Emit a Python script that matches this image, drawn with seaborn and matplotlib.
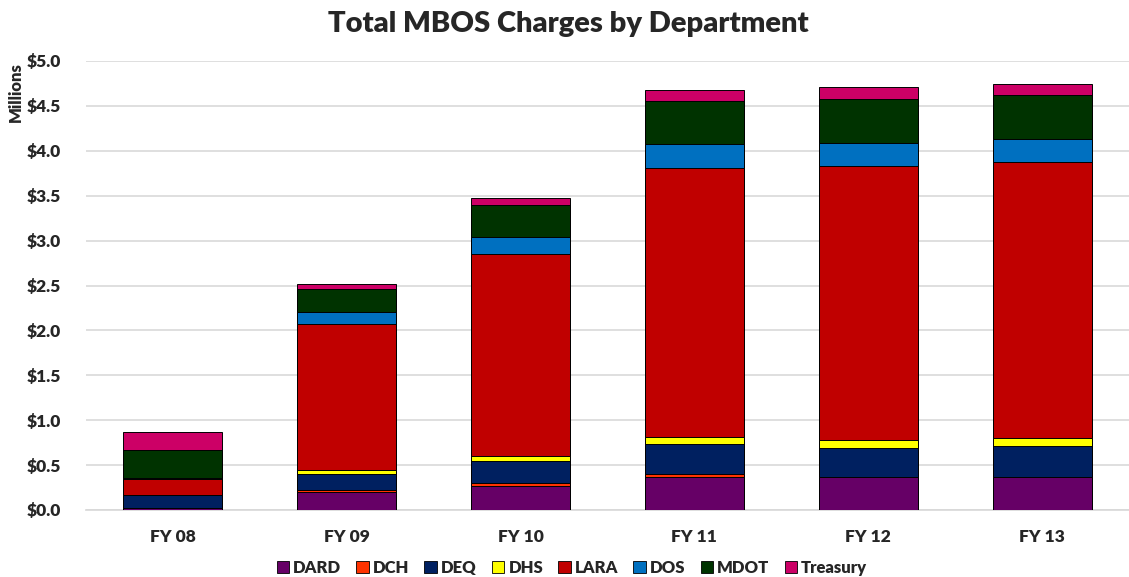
import matplotlib
matplotlib.use("Agg")
import matplotlib.pyplot as plt
import seaborn as sns
import pandas as pd
import numpy as np
from matplotlib.patches import Patch

years = ["FY 08", "FY 09", "FY 10", "FY 11", "FY 12", "FY 13"]
DARD = [0.025, 0.200, 0.267, 0.364, 0.364, 0.364]
DCH = [0.000, 0.020, 0.033, 0.040, 0.000, 0.000]
DEQ = [0.142, 0.180, 0.249, 0.334, 0.330, 0.352]
DHS = [0.000, 0.045, 0.056, 0.079, 0.082, 0.082]
LARA = [0.178, 1.626, 2.242, 2.995, 3.051, 3.074]
DOS = [0.012, 0.137, 0.197, 0.260, 0.263, 0.259]
MDOT = [0.310, 0.252, 0.349, 0.479, 0.483, 0.487]
Treasury = [0.200, 0.056, 0.085, 0.122, 0.134, 0.122]

series = {"DARD": DARD, "DCH": DCH, "DEQ": DEQ, "DHS": DHS,
          "LARA": LARA, "DOS": DOS, "MDOT": MDOT, "Treasury": Treasury}
colors = {"DARD": "#660066", "DCH": "#FF3300", "DEQ": "#002060", "DHS": "#FFFF00",
          "LARA": "#C00000", "DOS": "#0070C0", "MDOT": "#003300", "Treasury": "#CC0066"}

sns.set_theme(style="white")
plt.rcParams["font.family"] = ["Lato", "DejaVu Sans"]

fig = plt.figure(figsize=(11.29, 5.77), dpi=100)
ax = fig.add_axes([86/1129, 1 - 510/577, (1129 - 86)/1129, (510 - 61)/577])

names = list(series.keys())
cum = np.cumsum(np.array([series[n] for n in names]), axis=0)
df = pd.DataFrame({"year": years})
for i in range(len(names) - 1, -1, -1):
    df["val"] = cum[i]
    sns.barplot(data=df, x="year", y="val", color=colors[names[i]], width=0.57,
                edgecolor="black", linewidth=0.7, saturation=1, ax=ax, zorder=3)

ax.set_ylim(0, 5.0)
ax.set_xlim(-0.5, 5.5)
ax.set_yticks(np.arange(0, 5.01, 0.5))
ax.set_yticklabels([f"${v:.1f}" for v in np.arange(0, 5.01, 0.5)],
                   fontsize=12.5, fontweight="heavy")
ax.set_xticklabels(years, fontsize=12.5, fontweight="heavy")
ax.yaxis.grid(True, color="#D9D9D9", linewidth=1.2, zorder=0)
ax.set_axisbelow(True)
for s in ["top", "right", "left"]:
    ax.spines[s].set_visible(False)
ax.spines["bottom"].set_color("#D9D9D9")
ax.tick_params(axis="y", length=0, pad=18)
ax.tick_params(axis="x", length=0, pad=14)
ax.set_xlabel("")
ax.set_ylabel("")

fig.text(16/1129, 1 - 92/577, "Millions", rotation=90, fontsize=12, fontweight="heavy",
         ha="center", va="center")
fig.text(568/1129, 1 - 24/577, "Total MBOS Charges by Department", fontsize=21,
         fontweight="heavy", ha="center", va="center")

handles = [Patch(facecolor=colors[n], edgecolor="black", linewidth=0.6) for n in names]
leg = fig.legend(handles, names, loc="center", bbox_to_anchor=(572/1129, 1 - 568/577),
                 ncol=8, frameon=False, prop={"weight": "heavy", "size": 12},
                 handlelength=0.75, handleheight=0.75, handletextpad=0.25, columnspacing=0.9)

fig.savefig("out.png", dpi=100)
